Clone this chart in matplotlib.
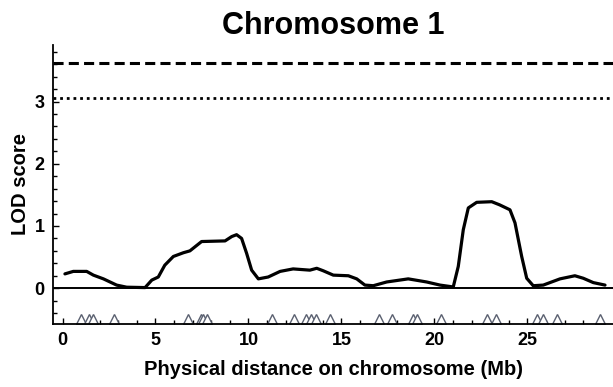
import matplotlib
matplotlib.use("Agg")
import matplotlib.pyplot as plt
from matplotlib.ticker import MultipleLocator

plt.rcParams['font.family'] = ['Liberation Sans', 'DejaVu Sans']

# LOD profile along chromosome 1 (Mb, LOD)
pos_mb = [0.13, 0.58, 1.3, 1.66, 2.2, 2.91, 3.45, 4.44, 4.8, 5.15, 5.5, 5.96, 6.5, 6.85,
          7.48, 8.74, 9.1, 9.36, 9.63, 9.9, 10.17, 10.53, 11.06, 11.7, 12.4, 13.3, 13.67,
          14.02, 14.56, 15.37, 15.82, 16.26, 16.71, 17.43, 18.59, 19.58, 20.3, 21.01,
          21.28, 21.55, 21.82, 22.27, 23.08, 23.5, 24.06, 24.33, 24.69, 24.96, 25.31,
          25.85, 26.75, 27.55, 28.0, 28.54, 29.17]
lod = [0.23, 0.27, 0.27, 0.21, 0.15, 0.05, 0.016, 0.01, 0.13, 0.18, 0.37, 0.51, 0.57, 0.6,
       0.75, 0.76, 0.83, 0.86, 0.8, 0.56, 0.29, 0.15, 0.18, 0.27, 0.31, 0.29, 0.32,
       0.28, 0.21, 0.2, 0.15, 0.05, 0.04, 0.1, 0.15, 0.1, 0.05, 0.02,
       0.35, 0.94, 1.29, 1.38, 1.39, 1.34, 1.26, 1.05, 0.51, 0.16, 0.04,
       0.05, 0.15, 0.2, 0.16, 0.09, 0.05]

# marker positions (Mb)
markers_mb = [0.99, 1.45, 1.66, 2.78, 6.73, 7.42, 7.58, 7.77, 11.25, 12.46, 13.09, 13.34,
              13.63, 14.38, 17.03, 17.70, 18.84, 19.06, 20.35, 22.85, 23.31, 25.49,
              25.83, 26.57, 28.90]
marker_y = -0.49

# significance thresholds
thresh_dashed = 3.62
thresh_dotted = 3.06

title = "Chromosome 1"
xlabel = "Physical distance on chromosome (Mb)"
ylabel = "LOD score"

fig = plt.figure(figsize=(6.13, 3.87), dpi=100)
ax = fig.add_axes([0.0865, 0.163, 0.9135, 0.721])

ax.axhline(0, color='black', lw=1.4, zorder=1)
ax.axhline(thresh_dashed, color='black', lw=2.2, dashes=(3.3, 1.7))
ax.axhline(thresh_dotted, color='black', lw=2.0, dashes=(1, 1.4))
ax.plot(pos_mb, lod, color='black', lw=2.3, solid_joinstyle='round', solid_capstyle='round')
ax.plot(markers_mb, [marker_y] * len(markers_mb), linestyle='none', marker='^',
        markersize=6.5, markerfacecolor='white', markeredgecolor='#5a6070', markeredgewidth=1.0)

ax.set_xlim(-0.51, 29.6)
ax.set_ylim(-0.574, 3.91)

for s in ['top', 'right']:
    ax.spines[s].set_visible(False)
for s in ['left', 'bottom']:
    ax.spines[s].set_linewidth(1.3)

ax.xaxis.set_major_locator(MultipleLocator(5))
ax.xaxis.set_minor_locator(MultipleLocator(1))
ax.yaxis.set_major_locator(MultipleLocator(1))
ax.yaxis.set_minor_locator(MultipleLocator(0.2))
ax.tick_params(which='both', direction='in', width=1.0)
ax.tick_params(which='major', length=4, labelsize=13)
ax.tick_params(which='minor', length=3)
ax.tick_params(axis='x', pad=6)
ax.tick_params(axis='y', pad=6)
for lbl in ax.get_xticklabels() + ax.get_yticklabels():
    lbl.set_fontweight('bold')

ax.set_title(title, fontsize=22, fontweight='bold', pad=8)
ax.set_xlabel(xlabel, fontsize=14.5, fontweight='bold', labelpad=8)
ax.set_ylabel(ylabel, fontsize=14.5, fontweight='bold', labelpad=3)

fig.savefig("out.png", dpi=100)
